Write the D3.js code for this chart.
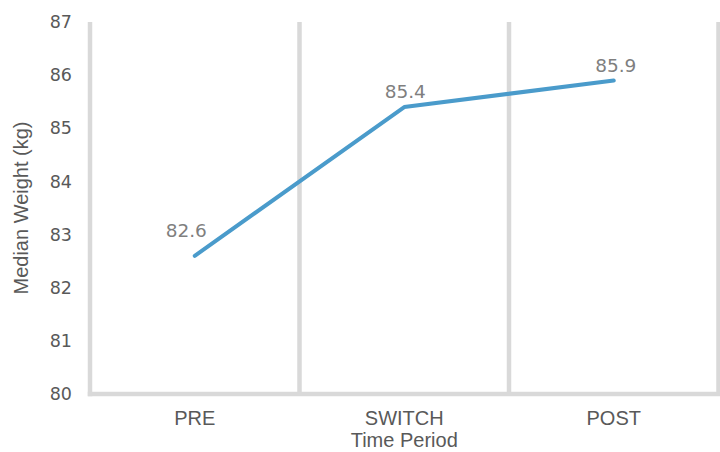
<!DOCTYPE html>
<html>
<head>
<meta charset="utf-8">
<script src="https://cdn.jsdelivr.net/npm/d3@7"></script>
<style>
  html, body { margin: 0; padding: 0; background: #fff; }
  svg { display: block; }
</style>
</head>
<body>
<svg id="chart" width="720" height="452"></svg>
<script>
// Median weight by time period
const periods = ["PRE", "SWITCH", "POST"];
const medianWeight = [82.6, 85.4, 85.9];
const yTicks = [80, 81, 82, 83, 84, 85, 86, 87];

const svg = d3.select("#chart");
const margin = { left: 90, right: 1.5, top: 22, bottom: 58 };
const W = 720, H = 452;
const plotW = W - margin.left - margin.right;
const plotH = H - margin.top - margin.bottom;

const x = d3.scaleBand().domain(periods).range([margin.left, margin.left + plotW]).padding(0);
const y = d3.scaleLinear().domain([80, 87]).range([margin.top + plotH, margin.top]);

const gridColor = "#d9d9d9";
const gridWidth = 4.5;
const numFont = "'DejaVu Sans', Verdana, sans-serif";
const textFont = "'Liberation Sans', Arial, sans-serif";

// Vertical separators between categories (plus right edge)
svg.append("g").selectAll("line")
  .data(periods)
  .join("line")
  .attr("x1", d => x(d) + x.bandwidth())
  .attr("x2", d => x(d) + x.bandwidth())
  .attr("y1", y(87))
  .attr("y2", y(80))
  .attr("stroke", gridColor)
  .attr("stroke-width", gridWidth);

// Left axis line
svg.append("line")
  .attr("x1", margin.left).attr("x2", margin.left)
  .attr("y1", y(87)).attr("y2", y(80) + gridWidth / 2)
  .attr("stroke", gridColor).attr("stroke-width", gridWidth);

// Bottom axis line
svg.append("line")
  .attr("x1", margin.left - gridWidth / 2).attr("x2", margin.left + plotW + gridWidth / 2)
  .attr("y1", y(80)).attr("y2", y(80))
  .attr("stroke", gridColor).attr("stroke-width", gridWidth);

// Y tick labels
const yAxis = d3.axisLeft(y).tickValues(yTicks).tickSize(0).tickPadding(18).tickFormat(d3.format("d"));
const yg = svg.append("g").attr("transform", `translate(${margin.left},0)`).call(yAxis);
yg.select(".domain").remove();
yg.selectAll("text")
  .attr("fill", "#595959")
  .style("font-family", numFont)
  .style("font-size", "17.5px");

// X category labels
const xAxis = d3.axisBottom(x).tickSize(0).tickPadding(0);
const xg = svg.append("g").attr("transform", `translate(0,${y(80)})`).call(xAxis);
xg.select(".domain").remove();
xg.selectAll("text")
  .attr("dy", null)
  .attr("y", 31)
  .attr("fill", "#595959")
  .style("font-family", textFont)
  .style("font-size", "20px");

// Line
const cx = i => x(periods[i]) + x.bandwidth() / 2;
const line = d3.line()
  .x((d, i) => cx(i))
  .y(d => y(d));
svg.append("path")
  .datum(medianWeight)
  .attr("d", line)
  .attr("fill", "none")
  .attr("stroke", "#4a9bcb")
  .attr("stroke-width", 4)
  .attr("stroke-linecap", "round")
  .attr("stroke-linejoin", "round");

// Data labels, nudged off the line
const labelNudge = [[-8.5, -19], [1, -9.5], [2, -8]];
svg.append("g").selectAll("text")
  .data(medianWeight)
  .join("text")
  .attr("x", (d, i) => cx(i) + labelNudge[i][0])
  .attr("y", (d, i) => y(d) + labelNudge[i][1])
  .attr("text-anchor", "middle")
  .attr("fill", "#7f7f7f")
  .style("font-family", numFont)
  .style("font-size", "18.5px")
  .text(d => d.toFixed(1));

// Axis titles
svg.append("text")
  .attr("x", margin.left + plotW / 2)
  .attr("y", 447)
  .attr("text-anchor", "middle")
  .attr("fill", "#595959")
  .style("font-family", textFont)
  .style("font-size", "20px")
  .text("Time Period");

svg.append("text")
  .attr("transform", `translate(28,${margin.top + plotH / 2}) rotate(-90)`)
  .attr("text-anchor", "middle")
  .attr("fill", "#595959")
  .style("font-family", textFont)
  .style("font-size", "20px")
  .text("Median Weight (kg)");
</script>
</body>
</html>
